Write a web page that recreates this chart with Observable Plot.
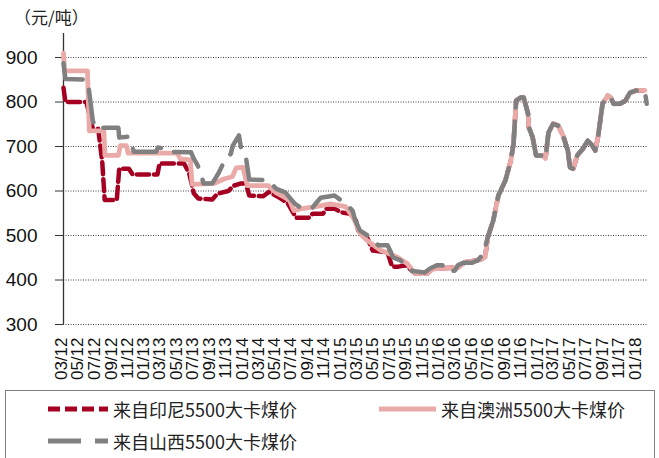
<!DOCTYPE html>
<html><head><meta charset="utf-8">
<script src="https://cdn.jsdelivr.net/npm/d3@7"></script>
<script src="https://cdn.jsdelivr.net/npm/@observablehq/plot@0.6"></script>
<style>
body{margin:0;background:#fff;}
#wrap{position:relative;width:659px;height:458px;overflow:hidden;background:#fff;}
#title{position:absolute;left:14px;top:4px;font:17px "Noto Sans CJK SC";color:#222;}
#chart{position:absolute;left:0;top:0;}
#legend{position:absolute;left:5px;top:390px;width:650px;height:90px;border:1px solid #808080;box-sizing:border-box;}
.item{position:absolute;height:24px;display:flex;align-items:center;font:18px "Noto Sans CJK SC";color:#222;white-space:nowrap;}
.item svg{margin-right:5px;}
</style></head>
<body><div id="wrap"><div id="chart"></div><div id="title">（元/吨）</div><div id="legend"></div></div>
<script>
const seriesNames = ["来自印尼5500大卡煤价", "来自澳洲5500大卡煤价", "来自山西5500大卡煤价"];
const xTickLabels = ["03/12","05/12","07/12","09/12","11/12","01/13","03/13","05/13","07/13","09/13","11/13",
  "01/14","03/14","05/14","07/14","09/14","11/14","01/15","03/15","05/15","07/15","09/15","11/15",
  "01/16","03/16","05/16","07/16","09/16","11/16","01/17","03/17","05/17","07/17","09/17","11/17","01/18"];
const yTicks = [300, 400, 500, 600, 700, 800, 900];

// Common segment (all three series overlap from mid-2016)
const commonDates = ["2016-07-01","2016-07-22","2016-08-10","2016-09-05","2016-09-25","2016-10-05","2016-10-15","2016-11-01","2016-11-12","2016-11-28","2016-12-01","2016-12-15","2016-12-28","2017-01-22","2017-02-01","2017-02-12","2017-03-01","2017-03-20","2017-04-07","2017-04-25","2017-05-03","2017-05-15","2017-05-30","2017-06-20","2017-07-08","2017-07-25","2017-08-05","2017-08-15","2017-09-01","2017-09-20","2017-10-01","2017-10-12","2017-11-05","2017-11-25","2017-12-12","2018-01-05","2018-02-05"];
const commonValues = [495,534,590,624,668,706,803,810,810,774,743,721,680,680,673,731,751,747,725,691,653,650,680,695,713,702,691,721,796,814,810,796,796,803,821,826,826];

// Indonesia
const indoDates = ["2012-03-08","2012-03-15","2012-06-01","2012-06-25","2012-07-15","2012-07-30","2012-08-08","2012-09-22","2012-10-01","2012-11-06","2012-11-20","2013-02-20","2013-02-28","2013-05-30","2013-06-18","2013-07-05","2013-07-22","2013-09-12","2013-10-01","2013-11-10","2013-12-01","2013-12-28","2014-01-15","2014-01-27","2014-03-20","2014-04-10","2014-05-05","2014-05-25","2014-06-20","2014-07-05","2014-07-20","2014-09-05","2014-09-20","2014-10-28","2014-11-10","2014-12-12","2015-01-03","2015-02-05","2015-02-25","2015-03-08","2015-04-10","2015-05-01","2015-06-25","2015-07-12","2015-08-05","2015-09-01","2015-10-05","2015-11-20","2015-12-10","2016-02-01","2016-03-12","2016-04-08","2016-06-05","2016-06-22"];
const indoValues = [832,800,800,740,740,665,580,580,650,650,637,637,662,662,640,595,583,581,594,600,612,617,617,590,588,598,590,583,572,556,540,540,549,549,560,560,552,549,540,511,496,466,462,430,430,433,415,415,425,427,428,440,446,452];

// Australia
const ausDates = ["2012-03-08","2012-03-12","2012-06-05","2012-06-12","2012-08-05","2012-08-09","2012-09-28","2012-10-05","2012-10-28","2012-11-03","2013-05-05","2013-05-16","2013-06-22","2013-06-29","2013-09-20","2013-10-25","2013-11-25","2013-12-10","2014-01-04","2014-01-20","2014-04-08","2014-05-05","2014-06-25","2014-07-12","2014-08-05","2014-10-01","2014-11-25","2015-01-20","2015-02-20","2015-03-15","2015-04-10","2015-05-30","2015-08-01","2015-09-06","2015-10-05","2015-11-20","2015-12-10","2016-02-01","2016-03-12","2016-04-08","2016-06-05","2016-06-22"];
const ausValues = [910,870,870,735,735,680,680,702,702,685,685,672,670,615,617,627,632,652,653,612,612,597,580,556,560,565,571,565,538,504,489,467,451,437,415,415,425,427,428,440,446,452];

// Shanxi
const sxDates = ["2012-03-08","2012-03-15","2012-06-01","2012-06-10","2012-06-25","2012-07-03","2012-09-28","2012-10-01","2012-11-03","2012-11-10","2012-11-25","2013-02-15","2013-02-22","2013-03-22","2013-04-10","2013-06-25","2013-07-05","2013-07-20","2013-08-05","2013-08-10","2013-09-12","2013-10-05","2013-10-25","2013-11-20","2013-11-27","2013-12-20","2013-12-28","2014-01-05","2014-01-15","2014-01-27","2014-04-05","2014-05-08","2014-06-10","2014-07-05","2014-07-15","2014-08-05","2014-09-20","2014-10-01","2014-10-20","2014-12-10","2015-01-03","2015-01-28","2015-02-15","2015-02-25","2015-03-15","2015-04-22","2015-05-22","2015-06-25","2015-07-05","2015-07-15","2015-08-12","2015-09-01","2015-09-25","2015-11-10","2015-11-30","2015-12-25","2016-01-15","2016-01-25","2016-03-01","2016-03-12","2016-04-01","2016-05-05","2016-05-25","2016-06-15"];
const sxValues = [887,852,850,830,758,742,742,720,722,713,688,688,698,695,688,687,673,657,630,617,617,640,665,684,702,725,695,684,675,626,624,605,597,579,572,563,563,572,585,590,579,567,556,534,511,496,478,478,466,451,444,433,420,417,426,433,433,421,421,433,439,439,444,459];
const sxTailDates = ["2018-02-12"];
const sxTailValues = [796];

const colors = ["#a50021", "#e9aaa8", "#808080"];
const dashes = ["12,5", null, "33,14"];

const parse = d3.utcParse("%Y-%m-%d");
const tickParse = d3.utcParse("%m/%y");
function build(dates, values) { return dates.map((d, i) => ({date: parse(d), value: values[i]})); }
const indo = build(indoDates.concat(commonDates), indoValues.concat(commonValues));
const aus = build(ausDates.concat(commonDates), ausValues.concat(commonValues));
const sx = build(sxDates.concat(commonDates, sxTailDates), sxValues.concat(commonValues, sxTailValues));

const xDomain = [parse("2012-03-08"), parse("2018-02-15")];
const yTop = 954;

const chart = Plot.plot({
  width: 659, height: 390,
  marginLeft: 63, marginRight: 12, marginTop: 33, marginBottom: 66,
  style: {fontFamily: "'Liberation Sans', Arial, sans-serif", color: "#111", background: "#fff"},
  x: {type: "utc", domain: xDomain, label: null},
  y: {domain: [300, yTop], label: null},
  marks: [
    Plot.gridY(yTicks, {stroke: "#444", strokeOpacity: 1, strokeDasharray: "1,1.5", strokeWidth: 1}),
    Plot.ruleX([xDomain[0]], {y1: 300, y2: yTop, stroke: "#333", strokeWidth: 1.3}),
    Plot.axisY({ticks: yTicks, tickSize: 8, tickPadding: 18, fontSize: 19, stroke: "#333"}),
    Plot.axisX({ticks: xTickLabels.map(tickParse), tickFormat: d3.utcFormat("%m/%y"), tickRotate: -90, tickSize: 0, tickPadding: 13, fontSize: 17}),
    Plot.line(indo, {x: "date", y: "value", stroke: colors[0], strokeWidth: 4.5, strokeDasharray: dashes[0], strokeLinejoin: "round"}),
    Plot.line(aus, {x: "date", y: "value", stroke: colors[1], strokeWidth: 4.8, strokeLinejoin: "round"}),
    Plot.line(sx, {x: "date", y: "value", stroke: colors[2], strokeWidth: 4.5, strokeDasharray: dashes[2], strokeLinejoin: "round"})
  ]
});
document.getElementById("chart").appendChild(chart);

// Legend
const legend = document.getElementById("legend");
const positions = [[42, 6], [373, 6], [42, 38]];
seriesNames.forEach((name, i) => {
  const item = document.createElement("div");
  item.className = "item";
  item.style.left = positions[i][0] + "px";
  item.style.top = positions[i][1] + "px";
  const ns = "http://www.w3.org/2000/svg";
  const svg = document.createElementNS(ns, "svg");
  svg.setAttribute("width", i === 1 ? 57 : 60);
  svg.setAttribute("height", 24);
  const ln = document.createElementNS(ns, "line");
  ln.setAttribute("x1", 0); ln.setAttribute("x2", i === 1 ? 57 : 60);
  ln.setAttribute("y1", 12); ln.setAttribute("y2", 12);
  ln.setAttribute("stroke", colors[i]);
  ln.setAttribute("stroke-width", 5);
  if (dashes[i]) ln.setAttribute("stroke-dasharray", dashes[i]);
  svg.appendChild(ln);
  item.appendChild(svg);
  const span = document.createElement("span");
  span.textContent = name;
  item.appendChild(span);
  legend.appendChild(item);
});
</script></body></html>
